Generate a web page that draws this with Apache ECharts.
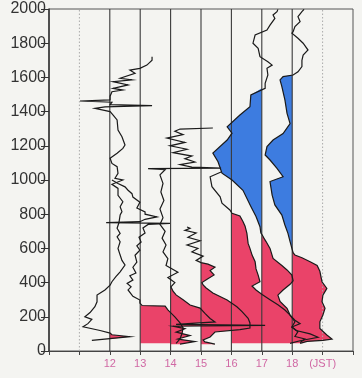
<!DOCTYPE html>
<html>
<head>
<meta charset="utf-8">
<script src="https://cdn.jsdelivr.net/npm/echarts@6/dist/echarts.min.js"></script>
<style>
  html, body { margin: 0; background: #f4f4f1; }
  #chart { width: 362px; height: 378px; }
</style>
</head>
<body>
<div id="chart"></div>
<script>
// each profile: [position on hour axis, height (m)]
const p12 = [[11.41,62],[12.66,84],[12.07,95],[12.01,105],[11.68,120],[11.12,142],[11.28,160],[11.41,185],[11.18,200],[11.35,225],[11.51,259],[11.58,288],[11.58,327],[11.84,357],[12.01,385],[12.07,405],[12.20,435],[12.34,463],[12.50,503],[12.40,530],[12.34,561],[12.27,600],[12.34,639],[12.24,668],[12.34,688],[12.24,718],[12.30,750],[12.34,795],[12.40,815],[12.34,844],[12.43,873],[12.27,910],[12.27,951],[12.07,975],[12.43,1000],[12.17,1010],[12.27,1039],[12.24,1078],[12.07,1097],[12.01,1127],[12.24,1156],[12.43,1185],[12.50,1205],[12.40,1253],[12.27,1292],[12.24,1351],[12.11,1380],[12.01,1400],[11.51,1419],[11.84,1428],[13.39,1435],[12.01,1441],[12.07,1455],[11.02,1462],[12.01,1468],[12.01,1490],[12.07,1516],[12.43,1526],[12.11,1536],[12.60,1556],[12.11,1575],[12.73,1585],[12.34,1595],[12.83,1624],[12.66,1643],[12.99,1653],[13.22,1672],[13.39,1700],[13.39,1721]];
const p13 = [[14.18,45],[14.31,70],[14.38,105],[14.41,135],[14.31,164],[14.14,200],[13.91,240],[13.82,262],[13.06,266],[12.99,280],[12.99,298],[12.76,320],[12.60,357],[12.70,375],[12.57,395],[12.76,415],[12.66,440],[12.86,456],[12.76,490],[12.89,520],[12.83,560],[12.99,590],[12.89,615],[13.03,637],[12.96,665],[13.16,690],[13.09,719],[13.26,740],[13.98,746],[11.88,751],[12.99,756],[13.16,770],[13.55,784],[13.16,800],[13.16,813],[12.89,836],[12.99,870],[12.76,900],[12.73,920],[12.60,940],[12.50,960],[12.27,980],[12.07,1000]];
const p14 = [[14.31,40],[14.80,55],[14.24,70],[14.64,90],[14.18,110],[14.47,130],[14.08,145],[17.11,150],[14.18,156],[15.46,170],[15.30,190],[15.13,220],[14.97,251],[14.64,269],[14.41,300],[14.18,328],[14.08,350],[14.01,375],[14.14,400],[13.91,430],[14.24,460],[13.85,500],[13.91,540],[13.75,580],[13.85,620],[13.72,660],[13.82,700],[13.65,740],[13.75,780],[13.65,830],[13.78,880],[13.68,930],[13.75,980],[13.65,1030],[13.82,1060],[13.26,1066],[15.66,1070],[14.70,1075],[14.31,1090],[14.80,1105],[14.47,1125],[14.70,1140],[14.08,1160],[14.54,1180],[13.98,1200],[14.47,1220],[13.88,1245],[14.41,1265],[14.14,1285],[14.31,1298],[15.39,1304]];
const p15 = [[15.46,40],[15.13,53],[15.07,64],[15.30,82],[15.46,111],[16.28,125],[16.61,134],[16.61,164],[16.55,191],[16.35,230],[16.18,259],[15.86,298],[15.39,339],[15.16,370],[15.07,386],[15.03,400],[15.20,420],[15.43,445],[15.30,470],[15.46,490],[15.23,508],[15.00,517],[14.84,530],[15.07,555],[14.70,580],[14.90,600],[14.54,620],[14.97,645],[14.57,665],[14.84,690],[14.47,705],[14.64,718],[14.54,725]];
const p16 = [[17.93,45],[18.26,60],[18.85,80],[18.59,100],[18.13,120],[17.99,140],[18.26,160],[18.09,180],[17.93,210],[17.76,240],[17.53,270],[17.27,300],[17.01,330],[16.81,357],[16.68,380],[16.94,405],[16.88,444],[16.81,480],[16.78,522],[16.68,561],[16.61,600],[16.55,629],[16.51,688],[16.45,730],[16.38,757],[16.28,790],[16.02,805],[15.95,825],[15.69,864],[15.63,902],[15.36,961],[15.30,1019],[15.66,1047]];
const p17 = [[18.26,50],[18.42,70],[18.09,85],[18.19,113],[17.99,140],[18.09,171],[17.93,210],[17.83,250],[17.60,290],[17.53,327],[17.70,357],[17.93,390],[18.03,410],[17.99,444],[17.83,474],[17.66,500],[17.37,541],[17.27,600],[17.14,640],[17.07,660],[17.01,680],[16.97,690],[16.94,727],[16.81,786],[16.64,845],[16.38,940],[16.02,1000],[15.69,1040],[15.56,1107],[15.39,1157],[15.86,1234],[16.02,1274],[15.86,1311],[16.28,1380],[16.61,1428],[16.64,1497],[17.11,1536],[17.11,1565],[17.20,1614],[17.17,1653],[17.34,1672],[17.20,1692],[16.94,1721],[16.88,1770],[16.71,1800],[16.78,1848],[17.17,1877],[17.27,1906],[17.43,1945],[17.37,1965],[17.50,1984],[17.53,1998]];
const p18 = [[18.26,45],[18.49,56],[19.01,62],[19.31,70],[19.14,94],[18.91,132],[18.91,171],[19.01,210],[19.08,250],[18.98,288],[19.01,327],[19.14,366],[18.98,405],[18.91,466],[18.82,500],[18.59,522],[18.32,545],[18.09,561],[18.03,575],[17.99,600],[17.93,640],[17.86,688],[17.76,737],[17.66,795],[17.43,854],[17.34,912],[17.27,991],[17.70,1019],[17.50,1068],[17.27,1117],[17.11,1146],[17.17,1195],[17.37,1234],[17.70,1272],[17.93,1330],[17.83,1390],[17.76,1468],[17.66,1546],[17.60,1585],[17.70,1605],[18.03,1614],[18.19,1633],[18.32,1663],[18.32,1700],[18.36,1731],[18.52,1760],[18.36,1800],[18.19,1829],[17.99,1858],[18.03,1867],[18.09,1897],[18.26,1926],[18.19,1955],[18.32,1985],[18.39,1998]];

const hours = [12, 13, 14, 15, 16, 17, 18];
const guideHours = [11, 19];
const hourLabels = ['', '', '12', '13', '14', '15', '16', '17', '18', '(JST)', ''];
const heightTicks = [0, 200, 400, 600, 800, 1000, 1200, 1400, 1600, 1800, 2000];

// [baseline hour, profile index, from m, to m]
const redLayers = [[12, 0, 70, 100], [13, 1, 30, 266], [14, 2, 30, 375], [15, 3, 30, 517], [16, 4, 30, 805], [17, 5, 40, 670], [18, 6, 40, 595]];
const blueLayers = [[17, 5, 670, 1540], [18, 6, 595, 1614]];

const profiles = [p12, p13, p14, p15, p16, p17, p18];

function clip(pts, lo, hi) {
    const out = [];
    for (let i = 0; i < pts.length; i++) {
        const [x, h] = pts[i];
        if (i > 0) {
            const [px, ph] = pts[i - 1];
            [lo, hi].forEach(b => {
                if ((ph - b) * (h - b) < 0) {
                    const t = (b - ph) / (h - ph);
                    out.push([px + t * (x - px), b]);
                }
            });
        }
        if (h >= lo && h <= hi) out.push([x, h]);
    }
    return out;
}

function layerItem(layers, color, side) {
    return function (params, api) {
        const [base, idx, lo, hi] = layers[params.dataIndex];
        const seg = clip(profiles[idx], lo, hi);
        const pts = [[base, seg[0][1]]];
        seg.forEach(([x, h]) => pts.push([side > 0 ? Math.max(x, base) : Math.min(x, base), h]));
        pts.push([base, seg[seg.length - 1][1]]);
        return {
            type: 'polygon',
            shape: {points: pts.map(p => api.coord(p))},
            style: {fill: color}
        };
    };
}

const chart = echarts.init(document.getElementById('chart'));
chart.setOption({
    animation: false,
    backgroundColor: '#f4f4f1',
    grid: {left: 49, right: 9, top: 9, bottom: 27, show: true, borderColor: '#555', borderWidth: 1},
    xAxis: {
        type: 'value', min: 10, max: 20, interval: 1,
        axisLine: {lineStyle: {color: '#444'}},
        axisTick: {length: 4, lineStyle: {color: '#444'}},
        axisLabel: {
            formatter: v => hourLabels[Math.round(v) - 10],
            color: '#d068a4', fontSize: 11, margin: 7, fontFamily: 'Liberation Sans'
        },
        splitLine: {show: false}
    },
    yAxis: {
        type: 'value', min: 0, max: 2000, interval: 200,
        axisLine: {show: true, lineStyle: {color: '#333', width: 1.5}},
        axisTick: {length: 8, lineStyle: {color: '#333'}},
        axisLabel: {
            formatter: v => heightTicks.includes(v) ? String(v) : '',
            color: '#333', fontSize: 16, margin: 3, fontFamily: 'Liberation Sans'
        },
        splitLine: {show: false}
    },
    series: [
        {
            type: 'custom', clip: true,
            data: redLayers.map(l => [l[0], l[2]]),
            renderItem: layerItem(redLayers, '#ea4369', 1)
        },
        {
            type: 'custom', clip: true,
            data: blueLayers.map(l => [l[0], l[2]]),
            renderItem: layerItem(blueLayers, '#3d7ce0', -1)
        },
        {
            type: 'custom', clip: true,
            data: guideHours.map(h => [h, 0]),
            renderItem: (params, api) => {
                const a = api.coord([api.value(0), 0]), b = api.coord([api.value(0), 2000]);
                return {type: 'line', shape: {x1: a[0], y1: a[1], x2: b[0], y2: b[1]},
                    style: {stroke: '#aaa', lineWidth: 1, lineDash: [1.5, 2]}};
            }
        },
        {
            type: 'custom', clip: true,
            data: hours.map(h => [h, 0]),
            renderItem: (params, api) => {
                const a = api.coord([api.value(0), 0]), b = api.coord([api.value(0), 2000]);
                return {type: 'line', shape: {x1: a[0], y1: a[1], x2: b[0], y2: b[1]},
                    style: {stroke: '#3a3a3a', lineWidth: 1.1}};
            }
        },
        {
            type: 'custom', clip: true,
            data: profiles.map((p, i) => [hours[i], p[0][1]]),
            renderItem: (params, api) => ({
                type: 'polyline',
                shape: {points: profiles[params.dataIndex].map(p => api.coord(p))},
                style: {stroke: '#1a1a1a', lineWidth: 1.2, fill: null}
            })
        }
    ]
});
</script>
</body>
</html>
